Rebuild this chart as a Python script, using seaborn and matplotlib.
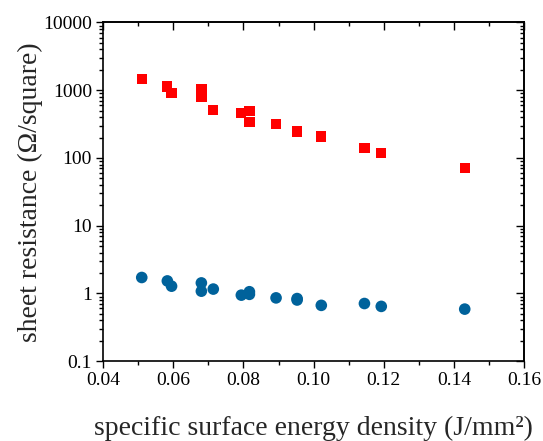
import numpy as np
import pandas as pd
import seaborn as sns
import matplotlib.pyplot as plt
from matplotlib.ticker import LogLocator, MultipleLocator, NullFormatter, FuncFormatter

# specific surface energy density (J/mm^2)
energy = [0.0510, 0.0583, 0.0595, 0.0680, 0.0680, 0.0714, 0.0794, 0.0817,
          0.0817, 0.0893, 0.0953, 0.0953, 0.1022, 0.1145, 0.1193, 0.1431]
# sheet resistance, red squares (Ohm/square)
rs_red = [1480, 1130, 915, 1020, 805, 508, 459, 491,
          338, 316, 248, 240, 208, 142, 117, 71]
# sheet resistance, blue circles (Ohm/square)
rs_blue = [1.72, 1.53, 1.28, 1.43, 1.08, 1.16, 0.944, 1.06,
           0.97, 0.86, 0.84, 0.80, 0.667, 0.71, 0.644, 0.587]

df = pd.DataFrame({'energy': energy, 'red': rs_red, 'blue': rs_blue})

sns.set_theme(style="ticks")
plt.rcParams['font.family'] = ['Liberation Serif', 'DejaVu Serif']

fig = plt.figure(figsize=(5.43, 4.41), dpi=100)
ax = fig.add_axes([0.190, 0.181, 0.775, 0.768])

sns.scatterplot(data=df, x='energy', y='red', ax=ax, marker='s', s=55,
                color='#ff0000', edgecolor='none', zorder=3)
sns.scatterplot(data=df, x='energy', y='blue', ax=ax, marker='o', s=70,
                color='#00629b', edgecolor='none', zorder=3)

ax.set_yscale('log')
ax.set_xlim(0.04, 0.16)
ax.set_ylim(0.1, 10000)


def style_axis(a, xaxis=True, yaxis=True):
    if xaxis:
        a.xaxis.set_major_locator(MultipleLocator(0.02))
        a.xaxis.set_minor_locator(MultipleLocator(0.01))
    if yaxis:
        a.yaxis.set_major_locator(LogLocator(base=10, numticks=10))
        a.yaxis.set_minor_locator(LogLocator(base=10, subs=np.arange(2, 10), numticks=10))
        a.yaxis.set_minor_formatter(NullFormatter())


style_axis(ax)
ax.xaxis.set_major_formatter(FuncFormatter(lambda v, p: f'{v:.2f}'))
ax.yaxis.set_major_formatter(FuncFormatter(lambda v, p: f'{v:g}'))

# bottom/left ticks point out, top/right ticks point in
ax.tick_params(which='both', direction='out', top=False, right=False,
               labelsize=14, colors='black', width=1, pad=3)
ax.tick_params(which='major', length=5)
ax.tick_params(which='minor', length=3)

top = ax.secondary_xaxis('top')
style_axis(top, yaxis=False)
top.tick_params(which='both', direction='in', labeltop=False, colors='black', width=1)
top.tick_params(which='major', length=6)
top.tick_params(which='minor', length=3)

right = ax.secondary_yaxis('right')
right.set_yscale('log')
style_axis(right, xaxis=False)
right.tick_params(which='both', direction='in', labelright=False, colors='black', width=1)
right.tick_params(which='major', length=6)
right.tick_params(which='minor', length=3)

for a in (ax, top, right):
    for sp in a.spines.values():
        sp.set_linewidth(1.2)
        sp.set_color('black')

ax.set_xlabel('specific surface energy density (J/mm²)', fontsize=20, labelpad=19)
ax.set_ylabel('sheet resistance (Ω/square)', fontsize=20, labelpad=0)

fig.savefig('out.png', dpi=100)
